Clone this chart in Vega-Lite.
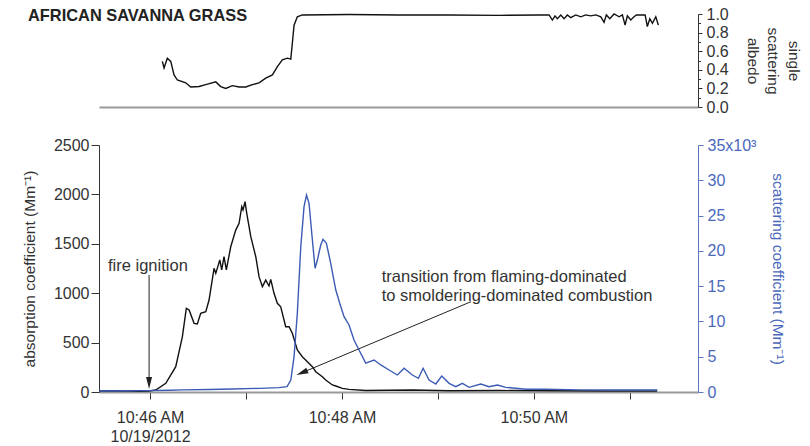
{
  "$schema": "https://vega.github.io/schema/vega-lite/v6.json",
  "padding": {"top": 6, "left": 22, "right": 4, "bottom": 0},
  "config": {
    "font": "Liberation Sans",
    "view": {"stroke": null},
    "axis": {"grid": false, "labelFontSize": 16, "titleFontSize": 15.5, "titleFontWeight": "normal", "labelColor": "#333", "titleColor": "#333", "tickColor": "#333", "domainColor": "#333", "labelOverlap": false}
  },
  "datasets": {
    "alb": [
      {"t": 46.128, "alb": 0.49}, {"t": 46.146, "alb": 0.42}, {"t": 46.180, "alb": 0.525}, {"t": 46.216, "alb": 0.49},
      {"t": 46.250, "alb": 0.345}, {"t": 46.285, "alb": 0.29}, {"t": 46.372, "alb": 0.26}, {"t": 46.424, "alb": 0.215},
      {"t": 46.511, "alb": 0.22}, {"t": 46.581, "alb": 0.24}, {"t": 46.685, "alb": 0.27}, {"t": 46.737, "alb": 0.22},
      {"t": 46.789, "alb": 0.20}, {"t": 46.858, "alb": 0.23}, {"t": 46.928, "alb": 0.215}, {"t": 46.998, "alb": 0.215},
      {"t": 47.066, "alb": 0.24}, {"t": 47.136, "alb": 0.26}, {"t": 47.206, "alb": 0.31}, {"t": 47.275, "alb": 0.345},
      {"t": 47.327, "alb": 0.435}, {"t": 47.379, "alb": 0.507}, {"t": 47.431, "alb": 0.525}, {"t": 47.467, "alb": 0.515},
      {"t": 47.483, "alb": 0.686}, {"t": 47.501, "alb": 0.88}, {"t": 47.535, "alb": 0.97}, {"t": 47.587, "alb": 0.99},
      {"t": 48.074, "alb": 0.995}, {"t": 48.595, "alb": 0.99}, {"t": 49.117, "alb": 0.99}, {"t": 49.638, "alb": 0.985},
      {"t": 50.055, "alb": 0.99}, {"t": 50.159, "alb": 0.99}, {"t": 50.193, "alb": 0.935}, {"t": 50.221, "alb": 0.98},
      {"t": 50.245, "alb": 0.95}, {"t": 50.281, "alb": 0.99}, {"t": 50.315, "alb": 0.95}, {"t": 50.350, "alb": 0.99},
      {"t": 50.385, "alb": 0.96}, {"t": 50.437, "alb": 0.99}, {"t": 50.489, "alb": 0.97}, {"t": 50.541, "alb": 0.99},
      {"t": 50.593, "alb": 0.98}, {"t": 50.646, "alb": 0.99}, {"t": 50.698, "alb": 0.97}, {"t": 50.732, "alb": 0.91},
      {"t": 50.756, "alb": 0.99}, {"t": 50.792, "alb": 0.95}, {"t": 50.836, "alb": 1.0}, {"t": 50.889, "alb": 0.97},
      {"t": 50.923, "alb": 0.99}, {"t": 50.951, "alb": 0.88}, {"t": 50.975, "alb": 0.98}, {"t": 51.010, "alb": 0.935},
      {"t": 51.044, "alb": 0.97}, {"t": 51.069, "alb": 0.99}, {"t": 51.160, "alb": 0.99}, {"t": 51.183, "alb": 0.865},
      {"t": 51.209, "alb": 0.95}, {"t": 51.236, "alb": 0.90}, {"t": 51.271, "alb": 0.97}, {"t": 51.298, "alb": 0.88}
    ],
    "heading": [
      {"label": "AFRICAN SAVANNA GRASS", "t": 44.728, "alb": 0.925}
    ],
    "abs": [
      {"t": 45.468, "abs": 10}, {"t": 45.677, "abs": 12}, {"t": 45.885, "abs": 8}, {"t": 45.990, "abs": 10},
      {"t": 46.059, "abs": 20}, {"t": 46.164, "abs": 88}, {"t": 46.268, "abs": 256}, {"t": 46.337, "abs": 560},
      {"t": 46.378, "abs": 847}, {"t": 46.407, "abs": 830}, {"t": 46.459, "abs": 695}, {"t": 46.493, "abs": 688},
      {"t": 46.528, "abs": 796}, {"t": 46.581, "abs": 813}, {"t": 46.615, "abs": 931}, {"t": 46.667, "abs": 1252},
      {"t": 46.685, "abs": 1201}, {"t": 46.727, "abs": 1336}, {"t": 46.747, "abs": 1235}, {"t": 46.771, "abs": 1369},
      {"t": 46.795, "abs": 1235}, {"t": 46.841, "abs": 1470}, {"t": 46.893, "abs": 1639}, {"t": 46.928, "abs": 1707},
      {"t": 46.956, "abs": 1875}, {"t": 46.969, "abs": 1842}, {"t": 46.990, "abs": 1926}, {"t": 47.008, "abs": 1808},
      {"t": 47.050, "abs": 1572}, {"t": 47.102, "abs": 1369}, {"t": 47.136, "abs": 1167}, {"t": 47.171, "abs": 1066},
      {"t": 47.206, "abs": 1133}, {"t": 47.240, "abs": 1073}, {"t": 47.258, "abs": 1140}, {"t": 47.292, "abs": 999},
      {"t": 47.327, "abs": 898}, {"t": 47.362, "abs": 863}, {"t": 47.414, "abs": 661}, {"t": 47.449, "abs": 661},
      {"t": 47.483, "abs": 594}, {"t": 47.535, "abs": 425}, {"t": 47.587, "abs": 357}, {"t": 47.640, "abs": 307},
      {"t": 47.692, "abs": 256}, {"t": 47.727, "abs": 205}, {"t": 47.796, "abs": 155}, {"t": 47.831, "abs": 121},
      {"t": 47.900, "abs": 71}, {"t": 47.936, "abs": 61}, {"t": 48.004, "abs": 37}, {"t": 48.074, "abs": 27},
      {"t": 48.248, "abs": 15}, {"t": 48.734, "abs": 20}, {"t": 49.117, "abs": 12}, {"t": 49.638, "abs": 15},
      {"t": 50.159, "abs": 12}, {"t": 50.680, "abs": 10}, {"t": 51.285, "abs": 10}
    ],
    "sca": [
      {"t": 45.468, "sca": 150}, {"t": 45.781, "sca": 170}, {"t": 45.990, "sca": 200}, {"t": 46.198, "sca": 250},
      {"t": 46.334, "sca": 300}, {"t": 46.615, "sca": 350}, {"t": 46.855, "sca": 420}, {"t": 47.136, "sca": 520},
      {"t": 47.345, "sca": 620}, {"t": 47.428, "sca": 750}, {"t": 47.467, "sca": 1700}, {"t": 47.501, "sca": 5000},
      {"t": 47.535, "sca": 11150}, {"t": 47.571, "sca": 20590}, {"t": 47.605, "sca": 26260}, {"t": 47.631, "sca": 27900},
      {"t": 47.657, "sca": 26740}, {"t": 47.692, "sca": 21540}, {"t": 47.720, "sca": 17530}, {"t": 47.744, "sca": 18700},
      {"t": 47.779, "sca": 20830}, {"t": 47.803, "sca": 21640}, {"t": 47.838, "sca": 21070}, {"t": 47.883, "sca": 18240},
      {"t": 47.936, "sca": 14450}, {"t": 47.977, "sca": 12570}, {"t": 48.022, "sca": 10670}, {"t": 48.074, "sca": 9500},
      {"t": 48.126, "sca": 7370}, {"t": 48.178, "sca": 5950}, {"t": 48.248, "sca": 4100}, {"t": 48.335, "sca": 4530},
      {"t": 48.405, "sca": 3830}, {"t": 48.491, "sca": 3120}, {"t": 48.578, "sca": 2410}, {"t": 48.648, "sca": 3360},
      {"t": 48.734, "sca": 2410}, {"t": 48.797, "sca": 1940}, {"t": 48.846, "sca": 3360}, {"t": 48.908, "sca": 1700},
      {"t": 48.978, "sca": 1130}, {"t": 49.040, "sca": 2270}, {"t": 49.117, "sca": 1230}, {"t": 49.186, "sca": 750},
      {"t": 49.255, "sca": 1230}, {"t": 49.325, "sca": 660}, {"t": 49.447, "sca": 1130}, {"t": 49.533, "sca": 750},
      {"t": 49.620, "sca": 990}, {"t": 49.708, "sca": 660}, {"t": 49.916, "sca": 380}, {"t": 50.124, "sca": 380},
      {"t": 50.472, "sca": 300}, {"t": 50.819, "sca": 280}, {"t": 51.288, "sca": 280}
    ],
    "arrows": [
      {"id": "ignition", "t": 45.99, "abs": 1184, "t2": 45.99, "abs2": 91},
      {"id": "transition", "t": 49.345, "abs": 914, "t2": 47.583, "abs2": 195}
    ],
    "notes": [
      {"label": "fire ignition", "t": 45.562, "abs": 1225},
      {"label": "transition from flaming-dominated", "t": 48.415, "abs": 1116},
      {"label": "to smoldering-dominated combustion", "t": 48.415, "abs": 921}
    ]
  },
  "vconcat": [
    {
      "width": 599,
      "height": 93,
      "layer": [
        {
          "data": {"name": "alb"},
          "mark": {"type": "line", "color": "#111", "strokeWidth": 1.4},
          "encoding": {
            "x": {"field": "t", "type": "quantitative", "scale": {"domain": [45.468, 51.711], "nice": false, "zero": false},
                  "axis": {"labels": false, "ticks": false, "title": null, "domainColor": "#999", "domainWidth": 2}},
            "y": {"field": "alb", "type": "quantitative", "scale": {"domain": [0, 1], "nice": false},
                  "axis": {"orient": "right", "values": [0, 0.1, 0.2, 0.3, 0.4, 0.5, 0.6, 0.7, 0.8, 0.9, 1.0],
                           "labelOverlap": false,
                           "labelExpr": "round(datum.value*10) % 2 == 0 ? format(datum.value, '.1f') : ''",
                           "tickSize": {"condition": {"test": "round(datum.value*10) % 2 == 1", "value": 2.5}, "value": 4},
                           "labelPadding": 4, "title": ["single", "scattering", "albedo"], "titleLineHeight": 20.5, "titlePadding": 16}}
          }
        },
        {
          "data": {"name": "heading"},
          "mark": {"type": "text", "align": "left", "baseline": "alphabetic", "fontSize": 16.4, "fontWeight": "bold", "color": "#222"},
          "encoding": {
            "x": {"field": "t", "type": "quantitative",
                  "axis": {"labels": false, "ticks": false, "title": null, "domainColor": "#999", "domainWidth": 2}},
            "y": {"field": "alb", "type": "quantitative",
                  "axis": {"orient": "right", "values": [0, 0.1, 0.2, 0.3, 0.4, 0.5, 0.6, 0.7, 0.8, 0.9, 1.0],
                           "labelOverlap": false,
                           "labelExpr": "round(datum.value*10) % 2 == 0 ? format(datum.value, '.1f') : ''",
                           "tickSize": {"condition": {"test": "round(datum.value*10) % 2 == 1", "value": 2.5}, "value": 4},
                           "labelPadding": 4, "title": ["single", "scattering", "albedo"], "titleLineHeight": 20.5, "titlePadding": 16}},
            "text": {"field": "label"}
          }
        }
      ]
    },
    {
      "width": 599,
      "height": 247,
      "layer": [
        {
          "layer": [
            {
              "data": {"name": "abs"},
              "mark": {"type": "line", "color": "#111", "strokeWidth": 1.4},
              "encoding": {
                "x": {"field": "t", "type": "quantitative", "scale": {"domain": [45.468, 51.711], "nice": false, "zero": false},
                      "axis": {"values": [46, 47, 48, 49, 50, 51], "title": null, "labelOverlap": false,
                               "labelExpr": "datum.value == 46 ? ['10:46 AM', '10/19/2012'] : (datum.value % 2 == 0 ? '10:' + datum.value + ' AM' : '')",
                               "tickSize": 7, "labelPadding": 10, "labelLineHeight": 19, "domainColor": "#999", "domainWidth": 2}},
                "y": {"field": "abs", "type": "quantitative", "scale": {"domain": [0, 2500], "nice": false},
                      "axis": {"values": [0, 500, 1000, 1500, 2000, 2500], "format": "d", "title": "absorption coefficient (Mm⁻¹)", "tickSize": 8, "labelPadding": 2, "titlePadding": 16}}
              }
            },
            {
              "data": {"name": "arrows"},
              "mark": {"type": "rule", "color": "#222", "strokeWidth": 1},
              "encoding": {
                "x": {"field": "t", "type": "quantitative"},
                "y": {"field": "abs", "type": "quantitative"},
                "x2": {"field": "t2"},
                "y2": {"field": "abs2"}
              }
            },
            {
              "data": {"name": "arrows"},
              "transform": [{"filter": "datum.id == 'ignition'"}],
              "mark": {"type": "point", "shape": "M0,-1L-0.5,1L0.5,1Z", "filled": true, "size": 144, "color": "#222", "opacity": 1, "angle": 180},
              "encoding": {
                "x": {"field": "t2", "type": "quantitative"},
                "y": {"field": "abs2", "type": "quantitative"}
              }
            },
            {
              "data": {"name": "arrows"},
              "transform": [{"filter": "datum.id == 'transition'"}],
              "mark": {"type": "point", "shape": "M0,-1L-0.5,1L0.5,1Z", "filled": true, "size": 144, "color": "#222", "opacity": 1, "angle": 247},
              "encoding": {
                "x": {"field": "t2", "type": "quantitative"},
                "y": {"field": "abs2", "type": "quantitative"}
              }
            },
            {
              "data": {"name": "notes"},
              "mark": {"type": "text", "align": "left", "baseline": "alphabetic", "fontSize": 16.5, "color": "#333"},
              "encoding": {
                "x": {"field": "t", "type": "quantitative"},
                "y": {"field": "abs", "type": "quantitative"},
                "text": {"field": "label"}
              }
            }
          ]
        },
        {
          "data": {"name": "sca"},
          "mark": {"type": "line", "color": "#3b5bb5", "strokeWidth": 1.4},
          "encoding": {
            "x": {"field": "t", "type": "quantitative"},
            "y": {"field": "sca", "type": "quantitative", "scale": {"domain": [0, 35000], "nice": false},
                  "axis": {"orient": "right", "values": [0, 5000, 10000, 15000, 20000, 25000, 30000, 35000],
                           "labelExpr": "datum.value == 35000 ? '35x10³' : format(datum.value/1000, 'd')",
                           "title": "scattering coefficient (Mm⁻¹)", "tickSize": 5, "labelPadding": 4, "titlePadding": 14,
                           "domainColor": "#5a78c4", "tickColor": "#5a78c4", "labelColor": "#4a68bc", "titleColor": "#4a68bc"}}
          }
        }
      ],
      "resolve": {"scale": {"y": "independent"}}
    }
  ],
  "spacing": 38,
  "bounds": "flush"
}
